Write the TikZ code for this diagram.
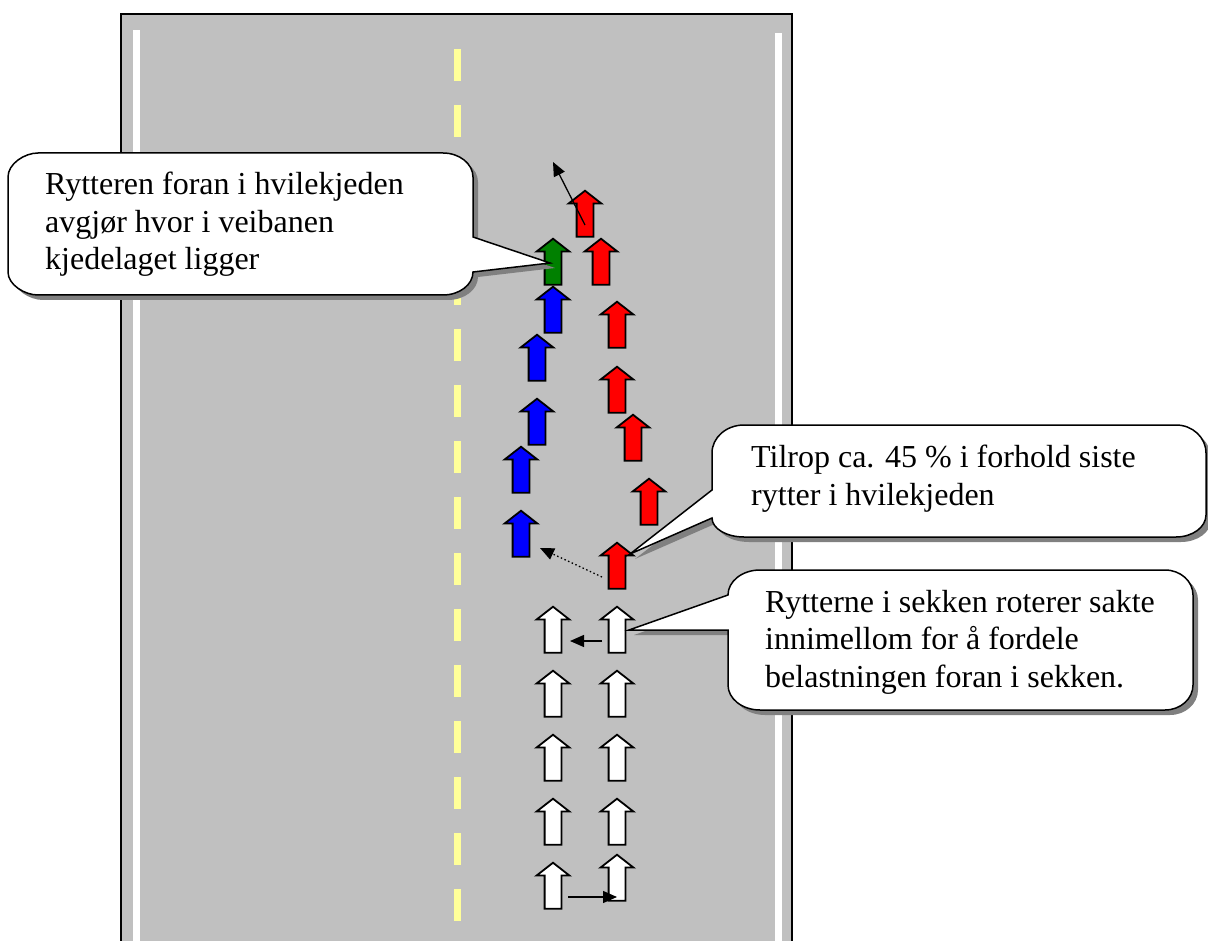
\documentclass[tikz,border=0pt]{standalone}
\usepackage{fontspec}
\setmainfont{Liberation Serif}
\usetikzlibrary{shapes.arrows,arrows.meta,shadows}

\definecolor{asphalt}{HTML}{C0C0C0}
\definecolor{midline}{HTML}{FFFF99}
\definecolor{leader}{HTML}{008000}

\begin{document}
\begin{tikzpicture}[x=1pt,y=-1pt]
	\tikzset{rider/.style={single arrow,draw=black,line width=1.8pt,fill=#1,
			minimum height=46pt,minimum width=31pt,inner sep=7.5pt,
			single arrow head extend=8pt,single arrow tip angle=104,
			shape border rotate=90}}
	\tikzset{bubble/.style={draw=black,line width=1.5pt,fill=white,
			drop shadow={shadow xshift=5pt,shadow yshift=-5pt,fill=black!50,opacity=1}}}
	\tikzset{bubbletext/.style={align=left,inner sep=0pt,anchor=base west,
			font=\fontsize{32}{37.5}\selectfont}}
	\tikzset{link/.style={line width=1.3pt,-{Triangle[length=14pt,width=12pt]}}}

	\useasboundingbox (0,0) rectangle (1208,941);

	% road
	\fill[asphalt] (121,14) rectangle (792,950);
	\draw[line width=2pt] (121,950) |- (792,14) -- (792,950);
	\fill[white] (133,30) rectangle (140,950);
	\fill[white] (775,33) rectangle (782,950);
	\foreach \k in {0,...,15}
		\fill[midline] (454,{49+56*\k}) rectangle (461,{81+56*\k});

	% chain
	\node[rider=red] (r1) at (585,217) {};
	\node[rider=red] (r2) at (601,265) {};
	\node[rider=red] (r3) at (617,328) {};
	\node[rider=red] (r4) at (617,393) {};
	\node[rider=red] (r5) at (633,441) {};
	\node[rider=red] (r6) at (649,505) {};
	\node[rider=red] (r7) at (617,569) {};
	\node[rider=leader] (g1) at (553,265) {};
	\node[rider=blue] (b1) at (553,313) {};
	\node[rider=blue] (b2) at (537,361) {};
	\node[rider=blue] (b3) at (537,425) {};
	\node[rider=blue] (b4) at (521,473) {};
	\node[rider=blue] (b5) at (521,537) {};

	% pack
	\foreach \y [count=\i] in {633,697,761,825,889}
		\node[rider=white] (wl\i) at (553,\y) {};
	\foreach \y [count=\i] in {633,697,761,825,881}
		\node[rider=white] (wr\i) at (617,\y) {};

	\coordinate (ahead) at (553,162);
	\coordinate (drift) at (540,548);
	\draw[link] ([shift={(0,8)}]r1.center) -- (ahead);
	\draw[link,dash pattern=on 1.5pt off 2.5pt] ([shift={(-15,8)}]r7.center) -- (drift);
	\draw[link] ([shift={(-15,8)}]wr1.center) -- ([shift={(17,8)}]wl1.center);
	\draw[link] ([shift={(15,8)}]wl5.center) -- ([shift={(0,16)}]wr5.center);

	% callouts
	\draw[bubble] (8,177) .. controls (8,163.8) and (24.5,153) .. (38,153)
		-- (443,153) .. controls (459.5,153) and (473,163.8) .. (473,177)
		-- (473,237) -- ([shift={(-3,-2)}]g1.center) -- (473,272)
		.. controls (473,284.7) and (459.5,295) .. (443,295)
		-- (38,295) .. controls (24.5,295) and (8,284.7) .. (8,272) -- cycle;
	\node[bubbletext] (t1) at (45,270) {Rytteren foran i hvilekjeden\\avgjør hvor i veibanen\\kjedelaget ligger};

	\draw[bubble] (712,453) .. controls (712,437.5) and (726.3,425) .. (744,425)
		-- (1176,425) .. controls (1192.6,425) and (1206,437.5) .. (1206,453)
		-- (1206,515) .. controls (1206,527.1) and (1192.6,537) .. (1176,537)
		-- (744,537) .. controls (726.3,537) and (712,528.5) .. (712,518)
		-- ([shift={(13,-15)}]r7.center) -- (712,490) -- cycle;
	\node[bubbletext] (t2) at (751,505) {Tilrop ca. 45 \% i forhold siste\\rytter i hvilekjeden};

	\draw[bubble] (728,595) .. controls (728,581.2) and (742.3,570) .. (760,570)
		-- (1165,570) .. controls (1180.5,570) and (1193,581.2) .. (1193,595)
		-- (1193,685) .. controls (1193,698.8) and (1180.5,710) .. (1165,710)
		-- (760,710) .. controls (742.3,710) and (728,698.8) .. (728,685)
		-- (728,630) -- ([shift={(12,-3)}]wr1.center) -- cycle;
	\node[bubbletext] (t3) at (765,687) {Rytterne i sekken roterer sakte\\innimellom for å fordele\\belastningen foran i sekken.};
\end{tikzpicture}
\end{document}
